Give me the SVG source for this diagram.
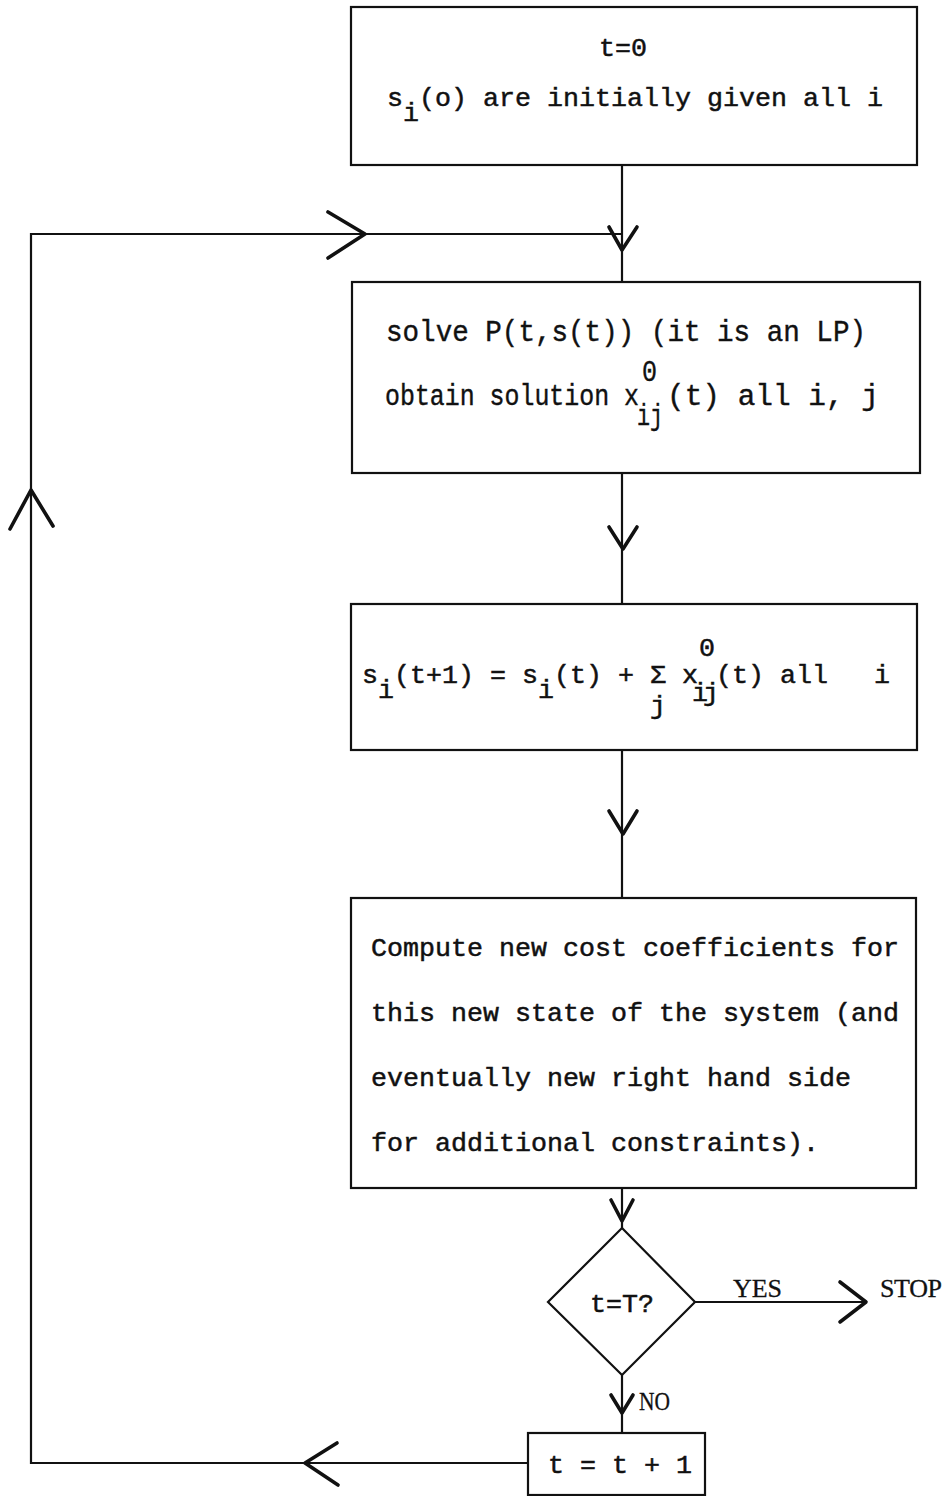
<svg xmlns="http://www.w3.org/2000/svg" width="945" height="1496" viewBox="0 0 945 1496">
<style>
.box{fill:none;stroke:#111;stroke-width:2.2}
.ln{fill:none;stroke:#111;stroke-width:2.2}
.ah{fill:none;stroke:#111;stroke-width:3.6;stroke-linecap:round;stroke-linejoin:round}
.tm{font-family:"Liberation Mono","DejaVu Sans Mono",monospace;font-size:26.67px;fill:#111;stroke:#111;stroke-width:0.5}
.tc{font-family:"Liberation Mono","DejaVu Sans Mono",monospace;font-size:29px;fill:#111;stroke:#111;stroke-width:0.4}
.ts{font-family:"Liberation Serif","Times New Roman",serif;font-size:26px;fill:#111;stroke:#111;stroke-width:0.3}
</style>
<rect width="945" height="1496" fill="#fff"/>
<g id="connectors">
<line class="ln" x1="622" y1="165" x2="622" y2="282"/>
<polyline class="ln" points="622,234 31,234 31,1463 527,1463"/>
<line class="ln" x1="622" y1="473" x2="622" y2="604"/>
<line class="ln" x1="622" y1="750" x2="622" y2="898"/>
<line class="ln" x1="622" y1="1188" x2="622" y2="1228"/>
<line class="ln" x1="622" y1="1375" x2="622" y2="1433"/>
<line class="ln" x1="695" y1="1302" x2="864" y2="1302"/>
<polyline class="ah" points="609,227 622,250 637,227"/>
<polyline class="ah" points="328,212 365,234 328,258"/>
<polyline class="ah" points="10,529 31,490 53,526"/>
<polyline class="ah" points="609,527 623,549 637,527"/>
<polyline class="ah" points="609,811 623,834 637,811"/>
<polyline class="ah" points="611,1200 622,1221 633,1200"/>
<polyline class="ah" points="611,1395 622,1413 633,1395"/>
<polyline class="ah" points="840,1282 866,1302 840,1322"/>
<polyline class="ah" points="337,1443 305,1463 338,1485"/>
<text class="ts" x="733" y="1297" textLength="49">YES</text>
<text class="ts" x="880" y="1297" textLength="62">STOP</text>
<text class="ts" x="639" y="1410" textLength="31" lengthAdjust="spacingAndGlyphs">NO</text>
</g>
<g id="node-init">
<rect class="box" x="351" y="7" width="566" height="158"/>
<text class="tm" x="623" y="56" text-anchor="middle">t=0</text>
<text class="tm" x="387" y="106">s</text>
<text class="tm" x="403" y="121">i</text>
<text class="tm" x="419" y="106">(o) are initially given all i</text>
</g>
<g id="node-solve">
<rect class="box" x="352" y="282" width="568" height="191"/>
<text class="tc" x="386" y="341" textLength="480" lengthAdjust="spacingAndGlyphs">solve P(t,s(t)) (it is an LP)</text>
<text class="tc" x="385" y="405" textLength="254" lengthAdjust="spacingAndGlyphs">obtain solution x</text>
<text class="tc" x="642" y="381" textLength="15" lengthAdjust="spacingAndGlyphs">0</text>
<text class="tc" x="637" y="425" textLength="26" lengthAdjust="spacingAndGlyphs">ij</text>
<text class="tc" x="667" y="405" textLength="212" lengthAdjust="spacingAndGlyphs">(t) all i, j</text>
</g>
<g id="node-update">
<rect class="box" x="351" y="604" width="566" height="146"/>
<text class="tm" x="362" y="683">s</text>
<text class="tm" x="378" y="698">i</text>
<text class="tm" x="394" y="683">(t+1) = s</text>
<text class="tm" x="538" y="698">i</text>
<text class="tm" x="554" y="683">(t) + Σ</text>
<text class="tm" x="650" y="714">j</text>
<text class="tm" x="682" y="683">x</text>
<text class="tm" x="699" y="656">0</text>
<text class="tm" x="692" y="701">i</text>
<text class="tm" x="703" y="701">j</text>
<text class="tm" x="716" y="683">(t) all</text>
<text class="tm" x="874" y="683">i</text>
</g>
<g id="node-compute">
<rect class="box" x="351" y="898" width="565" height="290"/>
<text class="tm" x="371" y="956">Compute new cost coefficients for</text>
<text class="tm" x="371" y="1021">this new state of the system (and</text>
<text class="tm" x="371" y="1086">eventually new right hand side</text>
<text class="tm" x="371" y="1151">for additional constraints).</text>
</g>
<g id="node-decision">
<polygon class="box" points="622,1228 695,1302 622,1375 548,1302"/>
<text class="tm" x="622" y="1312" text-anchor="middle">t=T?</text>
</g>
<g id="node-increment">
<rect class="box" x="528" y="1433" width="177" height="62"/>
<text class="tm" x="548" y="1473">t = t + 1</text>
</g>
</svg>
